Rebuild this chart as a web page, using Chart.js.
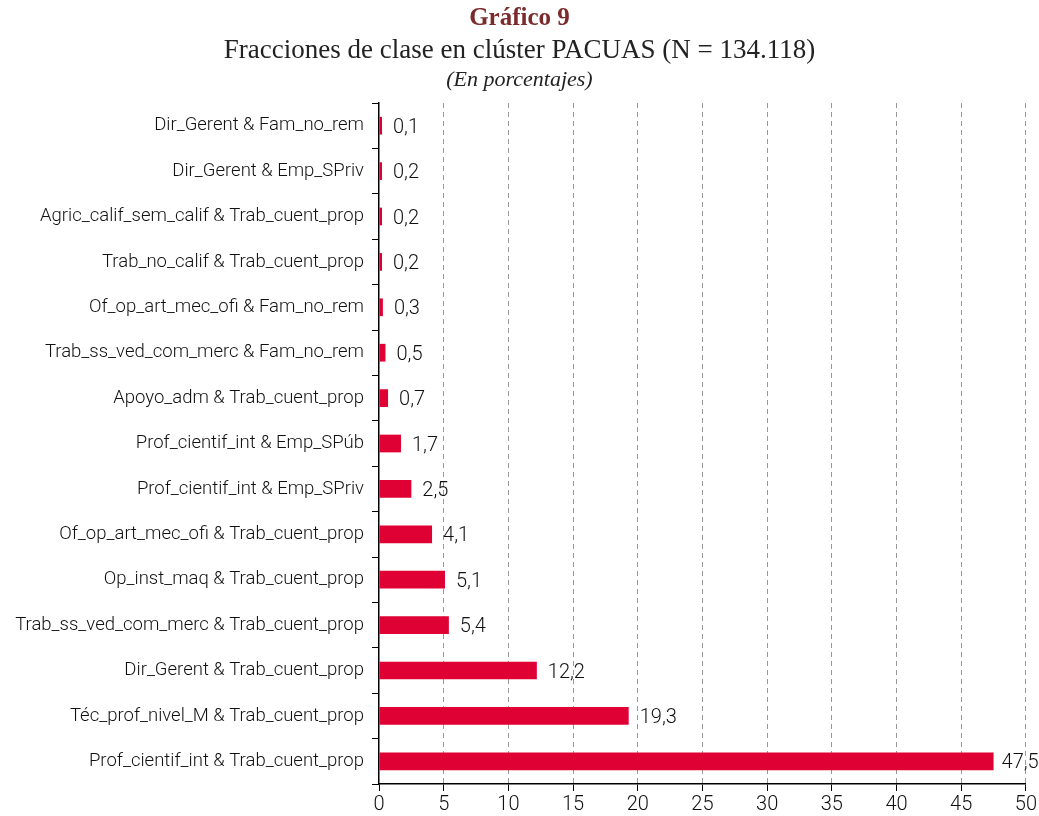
<!DOCTYPE html>
<html>
<head>
<meta charset="utf-8">
<script src="https://cdn.jsdelivr.net/npm/chart.js@4.4.1/dist/chart.umd.min.js"></script>
<style>
  html, body { margin: 0; padding: 0; background: #fff; }
  #wrap { position: relative; width: 1039px; height: 816px; }
  .head { position: absolute; left: 0; width: 1039px; text-align: center; font-family: "Liberation Serif", "DejaVu Serif", serif; color: #222; white-space: nowrap; }
  #t1 { top: 3px; font-size: 25px; font-weight: bold; color: #7b2b2b; }
  #t2 { top: 34px; font-size: 27px; }
  #t3 { top: 66px; font-size: 22px; font-style: italic; }
  canvas { position: absolute; left: 0; top: 0; }
</style>
</head>
<body>
<div id="wrap">
  <canvas id="chart" width="1039" height="816"></canvas>
  <div class="head" id="t1">Gráfico 9</div>
  <div class="head" id="t2">Fracciones de clase en clúster PACUAS (N = 134.118)</div>
  <div class="head" id="t3">(En porcentajes)</div>
</div>
<script>
// Categories, top to bottom
const categories = [
  'Dir_Gerent & Fam_no_rem',
  'Dir_Gerent & Emp_SPriv',
  'Agric_calif_sem_calif & Trab_cuent_prop',
  'Trab_no_calif & Trab_cuent_prop',
  'Of_op_art_mec_ofi & Fam_no_rem',
  'Trab_ss_ved_com_merc & Fam_no_rem',
  'Apoyo_adm & Trab_cuent_prop',
  'Prof_cientif_int & Emp_SPúb',
  'Prof_cientif_int & Emp_SPriv',
  'Of_op_art_mec_ofi & Trab_cuent_prop',
  'Op_inst_maq & Trab_cuent_prop',
  'Trab_ss_ved_com_merc & Trab_cuent_prop',
  'Dir_Gerent & Trab_cuent_prop',
  'Téc_prof_nivel_M & Trab_cuent_prop',
  'Prof_cientif_int & Trab_cuent_prop'
];

// Share of each class fraction (%)
const shares = [0.1, 0.2, 0.2, 0.2, 0.3, 0.5, 0.7, 1.7, 2.5, 4.1, 5.1, 5.4, 12.2, 19.3, 47.5];

const catFont = { family: 'Roboto, sans-serif', size: 18.5, weight: 300 };
const numFont = { family: 'Roboto, sans-serif', size: 20, weight: 300 };
const textColor = '#111';
const barColor = '#df0034';

const fmt = v => v.toFixed(1).replace('.', ',');

// Value labels next to each bar
const valueLabels = {
  id: 'valueLabels',
  afterDatasetsDraw(chart) {
    const ctx = chart.ctx;
    const meta = chart.getDatasetMeta(0);
    ctx.save();
    ctx.font = `${numFont.weight} ${numFont.size}px ${numFont.family}`;
    ctx.fillStyle = textColor;
    ctx.textAlign = 'left';
    ctx.textBaseline = 'middle';
    meta.data.forEach((bar, i) => {
      const gap = shares[i] > 40 ? 8 : 11;
      ctx.fillText(fmt(shares[i]), bar.x + gap, bar.y + 2);
    });
    ctx.restore();
  }
};

new Chart(document.getElementById('chart'), {
  type: 'bar',
  data: {
    labels: categories,
    datasets: [{
      data: shares,
      backgroundColor: barColor,
      borderWidth: 0,
      categoryPercentage: 1,
      barPercentage: 0.39,
      minBarLength: 3
    }]
  },
  options: {
    indexAxis: 'y',
    responsive: false,
    animation: false,
    layout: { padding: { left: 0, right: 12, top: 103, bottom: 0 } },
    plugins: {
      legend: { display: false },
      tooltip: { enabled: false }
    },
    scales: {
      x: {
        min: 0,
        max: 50,
        ticks: { stepSize: 5, color: textColor, font: numFont, padding: 2, maxRotation: 0 },
        grid: {
          color: c => (c.tick && c.tick.value === 0) ? 'rgba(0,0,0,0)' : '#999',
          lineWidth: 1,
          tickColor: '#000',
          tickLength: 7
        },
        border: { color: '#000', width: 1.5, dash: [5, 4] },
        afterFit: s => { s.height = 32; }
      },
      y: {
        ticks: { color: textColor, font: catFont, padding: 8, autoSkip: false },
        grid: {
          drawOnChartArea: false,
          offset: true,
          tickColor: '#000',
          tickLength: 7
        },
        border: { color: '#000', width: 1.5 },
        afterFit: s => { s.width = 379; }
      }
    }
  },
  plugins: [valueLabels]
});
</script>
</body>
</html>
